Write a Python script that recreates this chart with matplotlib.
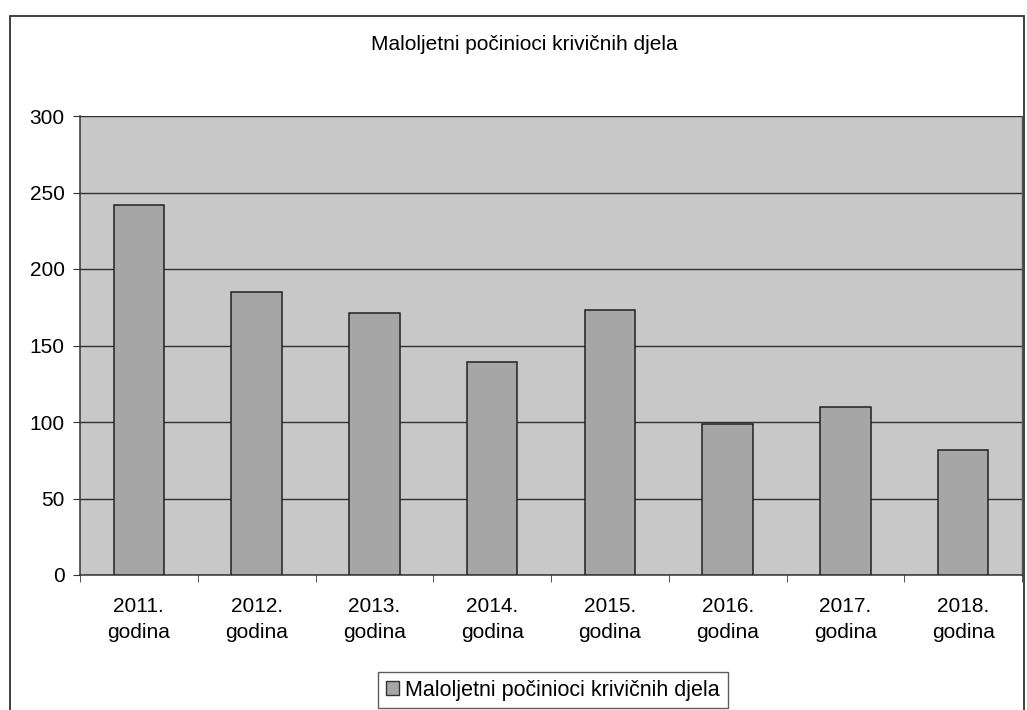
import matplotlib
matplotlib.use("Agg")
import matplotlib.pyplot as plt
from matplotlib.patches import Rectangle
import numpy as np

categories = ["2011.\ngodina", "2012.\ngodina", "2013.\ngodina", "2014.\ngodina",
              "2015.\ngodina", "2016.\ngodina", "2017.\ngodina", "2018.\ngodina"]
values = [242, 185, 171, 139, 173, 99, 110, 82]
series_name = "Maloljetni počinioci krivičnih djela"
title = "Maloljetni počinioci krivičnih djela"
yticks = [0, 50, 100, 150, 200, 250, 300]

plt.rcParams['font.family'] = ['Liberation Sans', 'DejaVu Sans']

W, H = 1027, 710
fig = plt.figure(figsize=(W / 100, H / 100), dpi=100)
fig.patch.set_facecolor("white")

# outer frame of the chart object
frame = Rectangle((10 / W, -0.05), (1024 - 10) / W, (H - 16) / H + 0.05,
                  transform=fig.transFigure, fill=False, edgecolor="#333333", lw=1.3)
fig.patches.append(frame)

ax = fig.add_axes([80 / W, (H - 575) / H, (1022 - 80) / W, (575 - 116) / H])
ax.set_facecolor("#c8c8c8")

x = np.arange(len(categories))
ax.bar(x, values, width=0.43, color="#a6a6a6", edgecolor="#222222", linewidth=1.1, zorder=3)

ax.set_ylim(0, 300)
ax.set_xlim(-0.5, len(categories) - 0.5)
ax.set_yticks(yticks)
ax.yaxis.grid(True, color="#333333", linewidth=1.0, zorder=1)
ax.set_axisbelow(True)

ax.set_xticks(x)
ax.set_xticklabels(categories, fontsize=15, linespacing=1.45)
ax.set_xticks(np.arange(-0.5, len(categories)), minor=True)
ax.tick_params(axis="x", which="major", length=0, pad=16)
ax.tick_params(axis="x", which="minor", length=5, color="#333333")
ax.tick_params(axis="y", length=5, color="#333333", labelsize=15, pad=6)

ax.spines["top"].set_visible(False)
ax.spines["right"].set_color("#555555")
ax.spines["right"].set_linewidth(1.0)
for s in ["left", "bottom"]:
    ax.spines[s].set_color("#333333")
    ax.spines[s].set_linewidth(1.1)

fig.text(524 / W, (H - 44) / H, title, ha="center", va="center", fontsize=15)

leg = fig.legend([Rectangle((0, 0), 1, 1, facecolor="#a6a6a6", edgecolor="#333333")],
                 [series_name], loc="upper center", bbox_to_anchor=(553 / W, (H - 672) / H),
                 borderaxespad=0, fontsize=15.5, frameon=True, fancybox=False,
                 edgecolor="#333333", handlelength=0.6, handleheight=0.6,
                 handletextpad=0.3, borderpad=0.35)
leg.get_frame().set_linewidth(1.0)

fig.savefig("out.png", dpi=100, facecolor="white")
